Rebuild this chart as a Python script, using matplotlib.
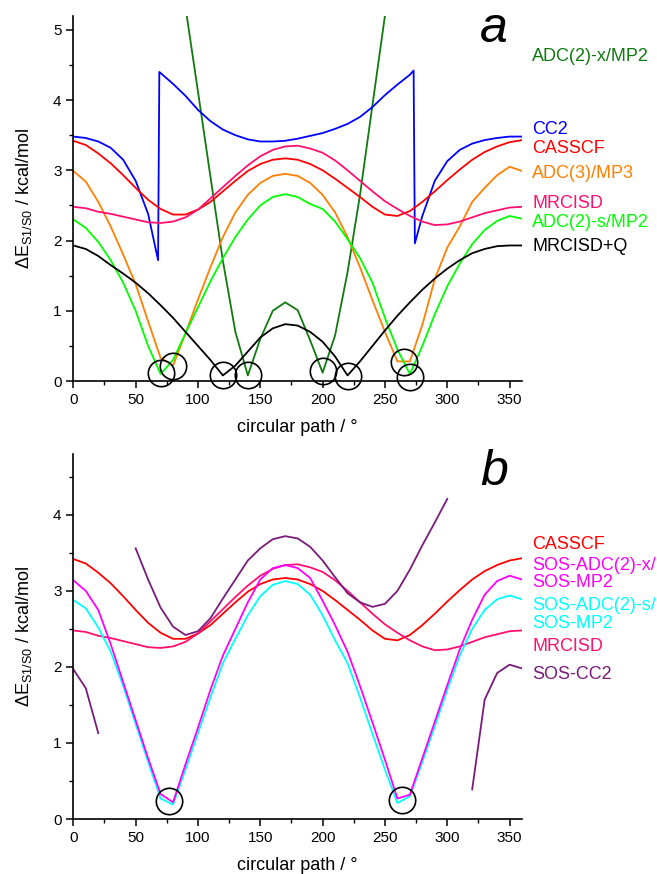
import numpy as np
import matplotlib
matplotlib.use('Agg')
import matplotlib.pyplot as plt
from matplotlib.ticker import MultipleLocator

plt.rcParams['font.family'] = ['Liberation Sans', 'DejaVu Sans']
plt.rcParams['mathtext.fontset'] = 'custom'
plt.rcParams['mathtext.rm'] = 'Liberation Sans'
plt.rcParams['mathtext.it'] = 'Liberation Sans:italic'

# circular path angle, 10 degree steps
angle = np.arange(0, 361, 10)

casscf = [3.42, 3.36, 3.24, 3.10, 2.93, 2.75, 2.58, 2.45, 2.37, 2.37, 2.44, 2.55,
          2.70, 2.85, 2.99, 3.09, 3.15, 3.17, 3.15, 3.09, 3.00, 2.88, 2.75, 2.62,
          2.48, 2.37, 2.35, 2.42, 2.55, 2.70, 2.86, 3.01, 3.15, 3.26, 3.34, 3.40, 3.43]
mrcisd = [2.48, 2.46, 2.41, 2.38, 2.34, 2.30, 2.26, 2.25, 2.27, 2.33, 2.44, 2.60,
          2.76, 2.92, 3.07, 3.20, 3.29, 3.34, 3.35, 3.31, 3.25, 3.14, 3.00, 2.85,
          2.70, 2.56, 2.45, 2.35, 2.27, 2.22, 2.23, 2.27, 2.33, 2.39, 2.43, 2.47, 2.48]
adc3 = [2.99, 2.84, 2.55, 2.20, 1.80, 1.38, 0.85, 0.33, 0.22, 0.68, 1.16, 1.62,
        2.05, 2.40, 2.65, 2.82, 2.92, 2.95, 2.92, 2.82, 2.65, 2.40, 2.05, 1.62,
        1.15, 0.70, 0.28, 0.28, 0.80, 1.45, 1.90, 2.20, 2.55, 2.75, 2.93, 3.05, 2.99]
adc2s = [2.30, 2.18, 1.98, 1.72, 1.40, 1.00, 0.50, 0.10, 0.30, 0.68, 1.05, 1.42,
         1.75, 2.05, 2.30, 2.50, 2.62, 2.66, 2.62, 2.52, 2.45, 2.27, 2.02, 1.75,
         1.40, 0.90, 0.45, 0.10, 0.50, 0.95, 1.35, 1.67, 1.95, 2.15, 2.28, 2.35, 2.31]
mrcisdq = [1.93, 1.88, 1.78, 1.65, 1.53, 1.40, 1.25, 1.08, 0.90, 0.70, 0.50, 0.30,
           0.08, 0.22, 0.42, 0.62, 0.75, 0.81, 0.79, 0.70, 0.56, 0.35, 0.08, 0.28,
           0.50, 0.72, 0.93, 1.12, 1.30, 1.46, 1.60, 1.72, 1.82, 1.88, 1.92, 1.93, 1.93]

# CC2 has jumps at about 68 and 273 degrees
cc2_angle = [0, 10, 20, 30, 40, 50, 60, 68, 69, 80, 90, 100, 110, 120, 130, 140,
             150, 160, 170, 180, 190, 200, 210, 220, 230, 240, 250, 260, 270, 273,
             274, 280, 290, 300, 310, 320, 330, 340, 350, 360]
cc2 = [3.48, 3.46, 3.41, 3.32, 3.15, 2.85, 2.38, 1.72, 4.40, 4.23, 4.06, 3.86,
       3.70, 3.58, 3.50, 3.44, 3.41, 3.41, 3.42, 3.45, 3.49, 3.53, 3.59, 3.66,
       3.76, 3.90, 4.07, 4.22, 4.36, 4.42, 1.96, 2.35, 2.85, 3.13, 3.29, 3.38,
       3.43, 3.46, 3.48, 3.48]

# ADC(2)-x/MP2 leaves the plot above 5.2
adc2x_angle = [80, 90, 100, 110, 120, 130, 140, 150, 160, 170, 180, 190, 200,
               210, 220, 230, 240, 250, 260]
adc2x = [6.50, 5.32, 4.12, 2.91, 1.71, 0.70, 0.08, 0.60, 1.00, 1.12, 1.01, 0.58,
         0.12, 0.65, 1.55, 2.65, 3.93, 5.20, 6.50]

# panel b
sos_adc2x = [3.14, 3.00, 2.75, 2.30, 1.80, 1.30, 0.80, 0.33, 0.22, 0.72, 1.20, 1.70,
             2.15, 2.50, 2.85, 3.15, 3.30, 3.34, 3.30, 3.17, 2.87, 2.55, 2.20, 1.75,
             1.27, 0.78, 0.27, 0.32, 0.80, 1.28, 1.76, 2.23, 2.62, 2.95, 3.13, 3.20, 3.15]
sos_adc2s = [2.88, 2.77, 2.52, 2.20, 1.75, 1.25, 0.75, 0.27, 0.19, 0.65, 1.13, 1.60,
             2.05, 2.37, 2.68, 2.93, 3.08, 3.13, 3.09, 2.95, 2.68, 2.35, 2.05, 1.60,
             1.12, 0.65, 0.21, 0.30, 0.75, 1.22, 1.70, 2.15, 2.50, 2.75, 2.89, 2.94, 2.89]
nan = np.nan
sos_cc2 = [1.97, 1.72, 1.13, nan, nan, 3.56, 3.15, 2.78, 2.53, 2.42, 2.47, 2.64,
           2.90, 3.15, 3.40, 3.56, 3.68, 3.72, 3.69, 3.58, 3.40, 3.18, 2.97, 2.85,
           2.79, 2.83, 3.00, 3.28, 3.60, 3.90, 4.21, nan, 0.39, 1.57, 1.92, 2.03, 1.98]

# near-degeneracy points marked with circles
circ_a_x = [70, 80, 120, 140, 200, 220, 265, 270]
circ_a_y = [0.12, 0.22, 0.09, 0.09, 0.14, 0.07, 0.27, 0.06]
circ_b_x = [77, 264]
circ_b_y = [0.24, 0.25]

c_casscf = '#ff0000'
c_mrcisd = '#ff1070'
c_cc2 = '#0000ff'
c_adc3 = '#ff7f00'
c_adc2s = '#00ff00'
c_adc2x = '#107a10'
c_q = '#000000'
c_sosx = '#ff00ff'
c_soss = '#00ffff'
c_soscc2 = '#7a1a7a'

fig = plt.figure(figsize=(6.57, 8.74), dpi=100)
ax1 = fig.add_axes([0.1116, 0.564, 0.683, 0.418])
ax2 = fig.add_axes([0.1116, 0.0629, 0.683, 0.4176])

lw = 1.3
ax1.plot(adc2x_angle, adc2x, color=c_adc2x, lw=lw)
ax1.plot(cc2_angle, cc2, color=c_cc2, lw=lw)
ax1.plot(angle, casscf, color=c_casscf, lw=lw)
ax1.plot(angle, adc3, color=c_adc3, lw=lw)
ax1.plot(angle, mrcisd, color=c_mrcisd, lw=lw)
ax1.plot(angle, adc2s, color=c_adc2s, lw=lw)
ax1.plot(angle, mrcisdq, color=c_q, lw=lw)
ax1.plot(circ_a_x, circ_a_y, 'o', ms=19, mfc='none', mec='black', mew=1.2, clip_on=False)

ax2.plot(angle, casscf, color=c_casscf, lw=lw)
ax2.plot(angle, mrcisd, color=c_mrcisd, lw=lw)
ax2.plot(angle, sos_cc2, color=c_soscc2, lw=lw)
ax2.plot(angle, sos_adc2s, color=c_soss, lw=lw)
ax2.plot(angle, sos_adc2x, color=c_sosx, lw=lw)
ax2.plot(circ_b_x, circ_b_y, 'o', ms=19, mfc='none', mec='black', mew=1.2, clip_on=False)

labels_a = [('ADC(2)-x/MP2', 4.62, c_adc2x), ('CC2', 3.58, c_cc2),
            ('CASSCF', 3.31, c_casscf), ('ADC(3)/MP3', 2.96, c_adc3),
            ('MRCISD', 2.53, c_mrcisd), ('ADC(2)-s/MP2', 2.25, c_adc2s),
            ('MRCISD+Q', 1.91, c_q)]
labels_b = [('CASSCF', 3.61, c_casscf), ('SOS-ADC(2)-x/', 3.34, c_sosx),
            ('SOS-MP2', 3.11, c_sosx), ('SOS-ADC(2)-s/', 2.81, c_soss),
            ('SOS-MP2', 2.57, c_soss), ('MRCISD', 2.27, c_mrcisd),
            ('SOS-CC2', 1.90, c_soscc2)]
for ax, labs in ((ax1, labels_a), (ax2, labels_b)):
    for txt, yv, col in labs:
        ax.text(368, yv, txt, color=col, fontsize=13, va='center', ha='left',
                clip_on=False)

ax1.text(0.938, 0.965, 'a', transform=ax1.transAxes, fontsize=36, style='italic',
         ha='center', va='center')
ax2.text(0.938, 0.95, 'b', transform=ax2.transAxes, fontsize=36, style='italic',
         ha='center', va='center')

ylab = 'ΔE$_{\\mathrm{S1/S0}}$ / kcal/mol'
for ax, ytop in ((ax1, 5.2), (ax2, 4.8)):
    ax.set_xlim(0, 360)
    ax.set_ylim(0, ytop)
    ax.spines['top'].set_visible(False)
    ax.spines['right'].set_visible(False)
    ax.spines['left'].set_linewidth(1.2)
    ax.spines['bottom'].set_linewidth(1.2)
    ax.xaxis.set_major_locator(MultipleLocator(50))
    ax.xaxis.set_minor_locator(MultipleLocator(25))
    ax.yaxis.set_major_locator(MultipleLocator(1))
    ax.yaxis.set_minor_locator(MultipleLocator(0.5))
    ax.tick_params(which='major', length=5, width=1.1, labelsize=11, direction='out')
    ax.tick_params(which='minor', length=3, width=1.0, direction='out')
    ax.set_xlabel('circular path / °', fontsize=13, labelpad=9)
    ax.set_ylabel(ylab, fontsize=13, labelpad=14)

fig.savefig('out.png', dpi=100)
